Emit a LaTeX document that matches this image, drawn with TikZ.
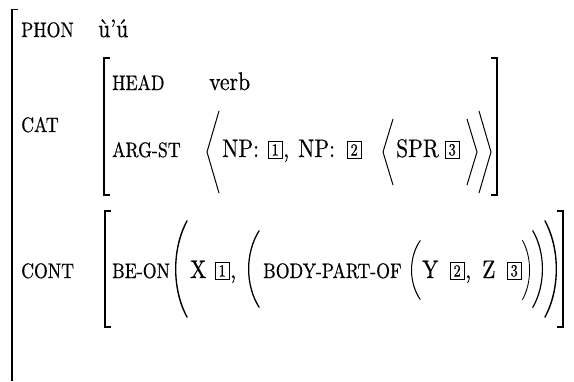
\documentclass[tikz,border=0pt]{standalone}
\font\mainf="[lmroman10-regular]:extend=0.85;embolden=0.5" at 25.4pt
\font\featf="[lmroman10-regular]:extend=0.85;embolden=0.5" at 20.9pt
\font\tagf="[lmroman10-regular]:extend=0.85;embolden=0.3" at 17pt
\tikzset{
  feat/.style={anchor=base west, inner sep=0pt, font=\featf},
  val/.style={anchor=base west, inner sep=0pt, font=\mainf},
  tag/.style={draw, line width=0.8pt, minimum width=13.5pt, minimum height=17.5pt, inner sep=0pt, anchor=south west, font=\tagf},
  brk/.style={line width=1.6pt},
  ang/.style={line width=1pt, line join=miter},
  lpar/.pic={\fill (1,0.5) .. controls (-0.333,0.22) and (-0.333,-0.22) .. (1,-0.5) -- (1.08,-0.49) .. controls (-0.207,-0.2) and (-0.207,0.2) .. (1.08,0.49) -- cycle;},
  rpar/.pic={\fill[xscale=-1] (1,0.5) .. controls (-0.333,0.22) and (-0.333,-0.22) .. (1,-0.5) -- (1.08,-0.49) .. controls (-0.207,-0.2) and (-0.207,0.2) .. (1.08,0.49) -- cycle;}
}
\begin{document}
\begin{tikzpicture}[x=1pt, y=-1pt]
\useasboundingbox[fill=white] (0,0) rectangle (574,381);
% outer bracket
\draw[brk] (18,9.5) -- (12,9.5) -- (12,381);
% PHON row
\node[feat] (phon) at (21,37) {PHON};
\node[val] (phonv) at (98,37) {ù’ú};
% CAT matrix
\draw[brk] (110,58) -- (104,58) -- (104,195) -- (110,195);
\draw[brk] (491,58) -- (497,58) -- (497,195) -- (491,195);
\node[feat] (cat) at (21,132) {CAT};
\node[feat] (head) at (112,90) {HEAD};
\node[val] (verb) at (209,90) {verb};
\node[feat] (argst) at (112,157) {ARG-ST};
\draw[ang] (219,111) -- (207,152) -- (219,193);
\node[val] (np1) at (222,157) {NP:};
\node[tag] (t1) at (268,159) {1};
\node[val] (c1) at (283,157) {,};
\node[val] (np2) at (298,157) {NP:};
\node[tag] (t2) at (347,159) {2};
\draw[ang] (393,119) -- (383,152) -- (393,185);
\node[val] (spr) at (396,157) {SPR};
\node[tag] (t3) at (445,159) {3};
\draw[ang] (467,119) -- (477,152) -- (467,185);
\draw[ang] (479,111) -- (491,152) -- (479,193);
% CONT matrix
\node[feat] (cont) at (21,278) {CONT};
\draw[brk] (111,211) -- (105,211) -- (105,327) -- (111,327);
\draw[brk] (557,211) -- (563,211) -- (563,327) -- (557,327);
\node[feat] (beon) at (112,278) {BE-ON};
\path (175,269) pic[xscale=11.8, yscale=98] {lpar};
\node[val] (x) at (190,278) {X};
\node[tag] (t1b) at (215,280) {1};
\node[val] (c2) at (230,278) {,};
\path (248,269) pic[xscale=10.9, yscale=78] {lpar};
\node[feat] (bpo) at (263,278) {BODY-PART-OF};
\path (411,270) pic[xscale=9, yscale=60] {lpar};
\node[val] (y) at (422,278) {Y};
\node[tag] (t2b) at (450,280) {2};
\node[val] (c3) at (465,278) {,};
\node[val] (z) at (482,278) {Z};
\node[tag] (t3b) at (507,280) {3};
\path (530,270) pic[xscale=7.3, yscale=60] {rpar};
\path (543,269) pic[xscale=10, yscale=78] {rpar};
\path (557,269) pic[xscale=11.8, yscale=98] {rpar};
\end{tikzpicture}
\end{document}
